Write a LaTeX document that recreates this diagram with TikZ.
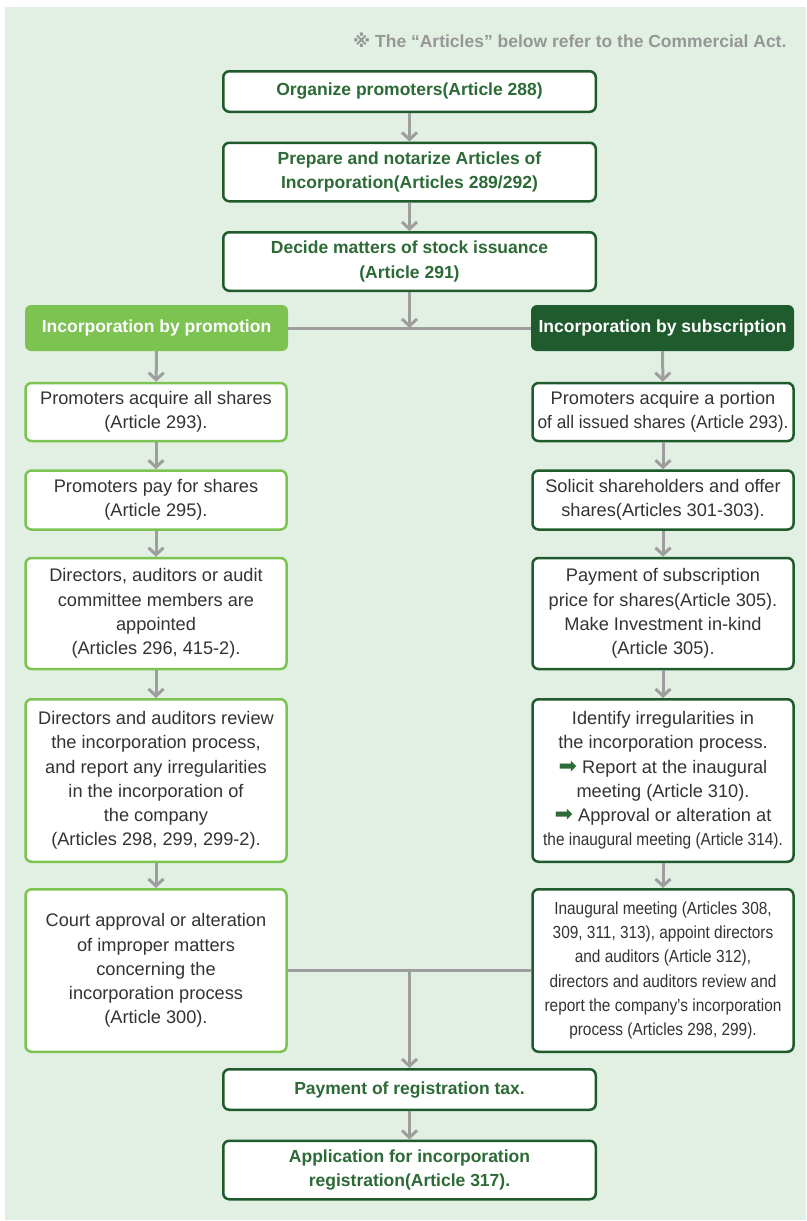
\documentclass[tikz,border=0pt]{standalone}
\usepackage{fontspec}
\setmainfont{Liberation Sans}
\newfontfamily\symfont{DejaVu Sans}
\newfontfamily\narrowfont[FakeStretch=0.88]{Liberation Sans}
\newfontfamily\tightfont[FakeStretch=0.95]{Liberation Sans}
\usetikzlibrary{arrows.meta}

\definecolor{bgmint}{RGB}{226,240,228}
\definecolor{darkgreen}{RGB}{31,91,44}
\definecolor{lightgreen}{RGB}{125,195,82}
\definecolor{titlegreen}{RGB}{44,106,54}
\definecolor{linegray}{RGB}{158,158,158}
\definecolor{notegray}{RGB}{150,150,150}
\definecolor{textgray}{RGB}{51,51,51}

\newcommand{\gonext}{{\color{titlegreen}\fontsize{22}{24.2}\symfont ➡}}

\begin{document}
\begin{tikzpicture}[x=1pt,y=-1pt,
    mainbox/.style={draw=darkgreen,line width=2.5pt,fill=white,rounded corners=6pt,align=center,inner sep=0pt,
        text=titlegreen,font=\fontsize{17.5}{24.2}\selectfont\bfseries,minimum width=372.5pt},
    headbox/.style={fill=#1,rounded corners=6pt,align=center,inner sep=0pt,text=white,
        font=\fontsize{17.5}{24.2}\selectfont\bfseries,minimum width=263pt,minimum height=46pt},
    stepbox/.style={draw=#1,line width=2.5pt,fill=white,rounded corners=6pt,align=center,inner sep=0pt,
        text=textgray,font=\fontsize{18.2}{24.2}\selectfont,minimum width=261pt},
    flow/.style={draw=linegray,line width=3pt,-{Straight Barb[length=7pt,width=15pt]}},
    joinline/.style={draw=linegray,line width=3pt}]

    \useasboundingbox (0,0) rectangle (806,1221);
    \fill[bgmint] (5,7) rectangle (806,1220); %light background panel

    \node[anchor=east,text=notegray,font=\fontsize{17.5}{20}\selectfont\bfseries] (note) at (790,40)
        {{\symfont ※} The “Articles” below refer to the Commercial Act.};

    % common steps on top
    \node[mainbox,minimum height=40.5pt] (organize) at (409.5,91.5) {Organize promoters(Article 288)};
    \node[mainbox,minimum height=58.5pt] (prepare) at (409.5,172) {Prepare and notarize Articles of\\Incorporation(Articles 289/292)};
    \node[mainbox,minimum height=58.5pt] (decide) at (409.5,261.5) {Decide matters of stock issuance\\(Article 291)};

    \node[headbox=lightgreen] (promotion) at (156.5,328) {Incorporation by promotion};
    \node[headbox=darkgreen] (subscription) at (662.5,328) {Incorporation by subscription};
    \coordinate (split) at (409.5,328);

    % left column
    \node[stepbox=lightgreen,minimum height=58pt] (allshares) at (156,412) {Promoters acquire all shares\\(Article 293).};
    \node[stepbox=lightgreen,minimum height=59pt] (payshares) at (156,500) {Promoters pay for shares\\(Article 295).};
    \node[stepbox=lightgreen,minimum height=111pt] (appoint) at (156,613.5) {Directors, auditors or audit\\committee members are\\appointed\\(Articles 296, 415-2).};
    \node[stepbox=lightgreen,minimum height=162.5pt] (review) at (156,780.5) {Directors and auditors review\\the incorporation process,\\and report any irregularities\\in the incorporation of\\the company\\(Articles 298, 299, 299-2).};
    \node[stepbox=lightgreen,minimum height=162.5pt] (court) at (156,970.5) {Court approval or alteration\\of improper matters\\concerning the\\incorporation process\\(Article 300).};

    % right column
    \node[stepbox=darkgreen,minimum height=58pt] (portion) at (663,412) {Promoters acquire a portion\\{\tightfont of all issued shares (Article 293).}};
    \node[stepbox=darkgreen,minimum height=59pt] (solicit) at (663,500) {Solicit shareholders and offer\\shares(Articles 301-303).};
    \node[stepbox=darkgreen,minimum height=111pt] (payprice) at (663,613.5) {Payment of subscription\\price for shares(Article 305).\\Make Investment in-kind\\(Article 305).};
    \node[stepbox=darkgreen,minimum height=162.5pt] (irregular) at (663,780.5) {Identify irregularities in\\the incorporation process.\\\gonext{} Report at the inaugural\\meeting (Article 310).\\\gonext{} Approval or alteration at\\{\fontsize{17.5}{24.2}\narrowfont the inaugural meeting (Article 314).}};
    \node[stepbox=darkgreen,minimum height=162.5pt,font=\fontsize{17.5}{24.2}\narrowfont] (meeting) at (663,970.5) {Inaugural meeting (Articles 308,\\309, 311, 313), appoint directors\\and auditors (Article 312),\\directors and auditors review and\\report the company’s incorporation\\process (Articles 298, 299).};
    \coordinate (merge) at (409.5,971);

    % common steps at the bottom
    \node[mainbox,minimum height=40.5pt] (regtax) at (409.5,1089.5) {Payment of registration tax.};
    \node[mainbox,minimum height=58.5pt] (apply) at (409.5,1170) {Application for incorporation\\registration(Article 317).};

    \draw[flow] (organize) -- (prepare);
    \draw[flow] (prepare) -- (decide);
    \draw[joinline] (promotion) -- (subscription);
    \draw[flow] (decide) -- (split);

    \draw[flow] (promotion) -- (allshares);
    \draw[flow] (allshares) -- (payshares);
    \draw[flow] (payshares) -- (appoint);
    \draw[flow] (appoint) -- (review);
    \draw[flow] (review) -- (court);

    \draw[flow] (subscription) -- (portion);
    \draw[flow] (portion) -- (solicit);
    \draw[flow] (solicit) -- (payprice);
    \draw[flow] (payprice) -- (irregular);
    \draw[flow] (irregular) -- (meeting);

    \draw[joinline] (court) -- (meeting); %both branches meet here
    \draw[flow] (merge) -- (regtax);
    \draw[flow] (regtax) -- (apply);
\end{tikzpicture}
\end{document}
